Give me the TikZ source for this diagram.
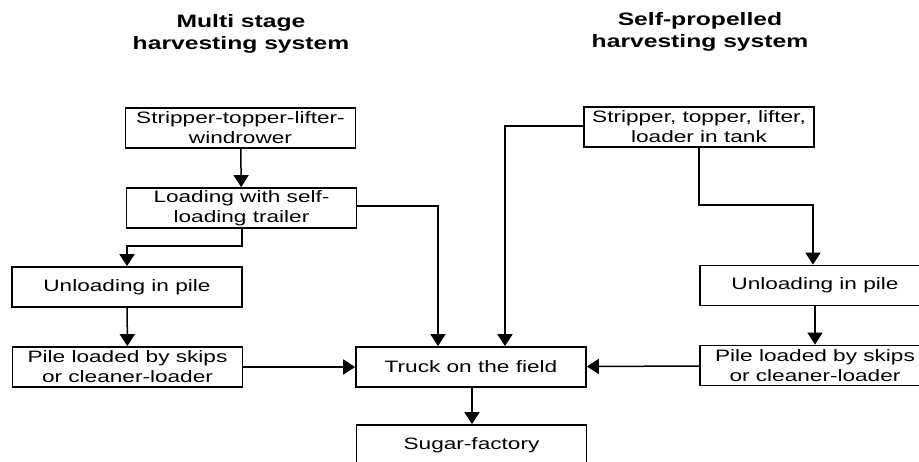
\documentclass[tikz,border=0pt]{standalone}
\usepackage{fontspec}
\setmainfont{Liberation Sans}[FakeStretch=1.37]
\usetikzlibrary{arrows.meta}
\tikzset{
  box/.style={draw, line width=1.7pt, rectangle, minimum width=230pt, minimum height=40pt,
    inner sep=0pt, align=center, font=\fontsize{16.5}{20}\selectfont},
  ttl/.style={align=center, font=\bfseries\fontsize{18}{22}\selectfont},
  conn/.style={line width=1.5pt},
  arr/.style={conn, -{Triangle[length=12pt,width=15pt]}}
}
\begin{document}
\begin{tikzpicture}[x=1pt,y=-1pt]
\useasboundingbox (0,0) rectangle (919,461);
\clip (0,0) rectangle (919,461);
\node[ttl] (t1) at (241,34) {Multi stage\\harvesting system};
\node[ttl] (t2) at (700,32) {Self-propelled\\harvesting system};

\node[box] (b1) at (240.5,128) {Stripper-topper-lifter-\\windrower};
\node[box] (b2) at (241.5,208) {Loading with self-\\loading trailer};
\node[box] (ul) at (127,287) {Unloading in pile};
\node[box] (pl) at (127.5,367) {Pile loaded by skips\\or cleaner-loader};
\node[box] (tr) at (471,367) {Truck on the field};
\node[box] (sf) at (471.5,445) {Sugar-factory};
\node[box] (br) at (699,127) {Stripper, topper, lifter,\\loader in tank};
\node[box] (ur) at (815,285.5) {Unloading in pile};
\node[box] (pr) at (815,365.5) {Pile loaded by skips\\or cleaner-loader};

\coordinate (c1) at (438,206);
\coordinate (c2) at (505,126);
\coordinate (c3) at (242,246);
\coordinate (c4) at (813,205);

\draw[arr] (b1) -- (b2);
\draw[arr] (b2.east |- c1) -- (c1) -- (c1 |- tr.north);
\draw[arr] (b2.south -| c3) -- (c3) -| (ul.north);
\draw[arr] (ul) -- (pl);
\draw[arr] (pl) -- (tr);
\draw[arr] (tr.south -| 472,0) -- (sf.north -| 472,0);
\draw[arr] (br.west |- c2) -- (c2) -- (c2 |- tr.north);
\draw[arr] (br.south) |- (c4) -- (c4 |- ur.north);
\draw[arr] (ur) -- (pr);
\draw[arr] (pr) -- (tr);
\end{tikzpicture}
\end{document}
